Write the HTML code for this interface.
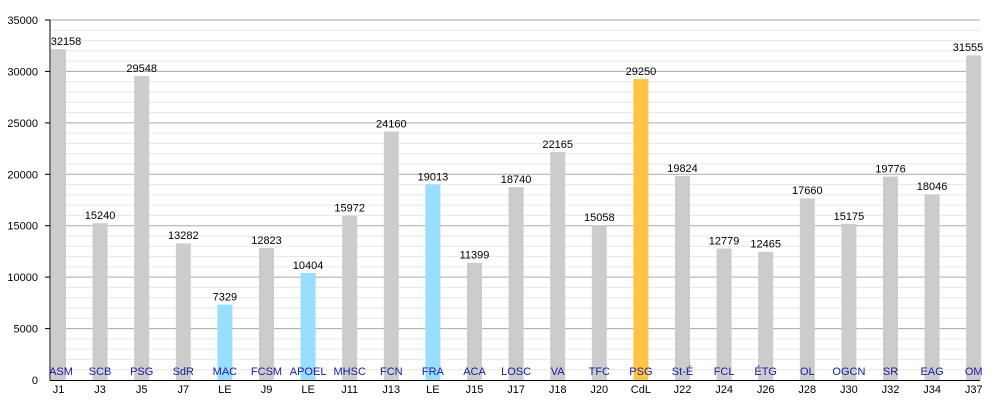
<!DOCTYPE html><html><head><meta charset="utf-8"><style>body{margin:0;background:#fff}svg{display:block;font-family:"Liberation Sans",sans-serif}</style></head><body>
<svg width="1000" height="400" xmlns="http://www.w3.org/2000/svg">
<g stroke="#e6e6e6" stroke-width="1">
<line x1="50" x2="980" y1="369.7" y2="369.7"/><line x1="50" x2="980" y1="359.4" y2="359.4"/><line x1="50" x2="980" y1="349.1" y2="349.1"/><line x1="50" x2="980" y1="338.9" y2="338.9"/>
<line x1="50" x2="980" y1="318.3" y2="318.3"/><line x1="50" x2="980" y1="308.0" y2="308.0"/><line x1="50" x2="980" y1="297.7" y2="297.7"/><line x1="50" x2="980" y1="287.4" y2="287.4"/>
<line x1="50" x2="980" y1="266.9" y2="266.9"/><line x1="50" x2="980" y1="256.6" y2="256.6"/><line x1="50" x2="980" y1="246.3" y2="246.3"/><line x1="50" x2="980" y1="236.0" y2="236.0"/>
<line x1="50" x2="980" y1="215.4" y2="215.4"/><line x1="50" x2="980" y1="205.1" y2="205.1"/><line x1="50" x2="980" y1="194.9" y2="194.9"/><line x1="50" x2="980" y1="184.6" y2="184.6"/>
<line x1="50" x2="980" y1="164.0" y2="164.0"/><line x1="50" x2="980" y1="153.7" y2="153.7"/><line x1="50" x2="980" y1="143.4" y2="143.4"/><line x1="50" x2="980" y1="133.1" y2="133.1"/>
<line x1="50" x2="980" y1="112.6" y2="112.6"/><line x1="50" x2="980" y1="102.3" y2="102.3"/><line x1="50" x2="980" y1="92.0" y2="92.0"/><line x1="50" x2="980" y1="81.7" y2="81.7"/>
<line x1="50" x2="980" y1="61.1" y2="61.1"/><line x1="50" x2="980" y1="50.9" y2="50.9"/><line x1="50" x2="980" y1="40.6" y2="40.6"/><line x1="50" x2="980" y1="30.3" y2="30.3"/>
</g>
<g stroke="#aaa" stroke-width="1">
<line x1="50" x2="980" y1="328.6" y2="328.6"/><line x1="50" x2="980" y1="277.1" y2="277.1"/><line x1="50" x2="980" y1="225.7" y2="225.7"/><line x1="50" x2="980" y1="174.3" y2="174.3"/><line x1="50" x2="980" y1="122.9" y2="122.9"/><line x1="50" x2="980" y1="71.4" y2="71.4"/><line x1="50" x2="980" y1="20" y2="20"/>
</g>
<g fill="#ccc">
<rect x="51" y="49.2" width="15" height="330.8"/><rect x="92.6" y="223.2" width="15" height="156.8"/><rect x="134.2" y="76.1" width="15" height="303.9"/><rect x="175.8" y="243.4" width="15" height="136.6"/>
<rect x="259" y="248.1" width="15" height="131.9"/><rect x="342.2" y="215.7" width="15" height="164.3"/><rect x="383.8" y="131.5" width="15" height="248.5"/>
<rect x="467" y="262.8" width="15" height="117.2"/><rect x="508.6" y="187.2" width="15" height="192.8"/><rect x="550.2" y="152" width="15" height="228"/><rect x="591.8" y="225.1" width="15" height="154.9"/>
<rect x="675" y="176.1" width="15" height="203.9"/><rect x="716.6" y="248.6" width="15" height="131.4"/><rect x="758.2" y="251.8" width="15" height="128.2"/><rect x="799.8" y="198.4" width="15" height="181.6"/><rect x="841.4" y="223.9" width="15" height="156.1"/><rect x="883" y="176.6" width="15" height="203.4"/><rect x="924.6" y="194.4" width="15" height="185.6"/><rect x="966.2" y="55.4" width="15" height="324.6"/>
</g>
<g fill="#99ddff"><rect x="217.4" y="304.6" width="15" height="75.4"/><rect x="300.6" y="273" width="15" height="107"/><rect x="425.4" y="184.4" width="15" height="195.6"/></g>
<rect x="633.4" y="79.1" width="15" height="300.9" fill="#ffc444"/>
<g stroke="#000" stroke-width="1"><line x1="50" y1="20" x2="50" y2="380.5"/><line x1="50" y1="380.5" x2="980" y2="380.5"/>
<line x1="45" x2="50" y1="20" y2="20"/><line x1="45" x2="50" y1="71.4" y2="71.4"/><line x1="45" x2="50" y1="122.9" y2="122.9"/><line x1="45" x2="50" y1="174.3" y2="174.3"/><line x1="45" x2="50" y1="225.7" y2="225.7"/><line x1="45" x2="50" y1="277.1" y2="277.1"/><line x1="45" x2="50" y1="328.6" y2="328.6"/>
</g>
<g font-size="11" text-anchor="end" fill="#000"><text x="38" y="24">35000</text><text x="38" y="75.4">30000</text><text x="38" y="126.9">25000</text><text x="38" y="178.3">20000</text><text x="38" y="229.7">15000</text><text x="38" y="281.1">10000</text><text x="38" y="332.6">5000</text><text x="38" y="384">0</text></g>
<g font-size="11" text-anchor="middle" fill="#000">
<text x="66" y="45">32158</text><text x="100.1" y="219">15240</text><text x="141.7" y="72">29548</text><text x="183.3" y="239">13282</text><text x="224.9" y="300.5">7329</text><text x="266.5" y="244">12823</text><text x="308.1" y="269">10404</text><text x="349.7" y="211.5">15972</text><text x="391.3" y="127.5">24160</text><text x="432.9" y="180.5">19013</text><text x="474.5" y="258.5">11399</text><text x="516.1" y="183">18740</text><text x="557.7" y="148">22165</text><text x="599.3" y="221">15058</text><text x="640.9" y="75">29250</text><text x="682.5" y="172">19824</text><text x="724.1" y="244.5">12779</text><text x="765.7" y="247.5">12465</text><text x="807.3" y="194">17660</text><text x="848.9" y="220">15175</text><text x="890.5" y="172.5">19776</text><text x="932.1" y="190">18046</text><text x="968" y="51">31555</text>
</g>
<g font-size="11" text-anchor="middle" fill="#1a1aa0">
<text x="61" y="375">ASM</text><text x="100.1" y="375">SCB</text><text x="141.7" y="375">PSG</text><text x="183.3" y="375">SdR</text><text x="224.9" y="375">MAC</text><text x="266.5" y="375">FCSM</text><text x="308.1" y="375">APOEL</text><text x="349.7" y="375">MHSC</text><text x="391.3" y="375">FCN</text><text x="432.9" y="375">FRA</text><text x="474.5" y="375">ACA</text><text x="516.1" y="375">LOSC</text><text x="557.7" y="375">VA</text><text x="599.3" y="375">TFC</text><text x="640.9" y="375">PSG</text><text x="682.5" y="375">St-É</text><text x="724.1" y="375">FCL</text><text x="765.7" y="375">ÉTG</text><text x="807.3" y="375">OL</text><text x="848.9" y="375">OGCN</text><text x="890.5" y="375">SR</text><text x="932.1" y="375">EAG</text><text x="973.7" y="375">OM</text>
</g>
<g font-size="11" text-anchor="middle" fill="#000">
<text x="58.5" y="393">J1</text><text x="100.1" y="393">J3</text><text x="141.7" y="393">J5</text><text x="183.3" y="393">J7</text><text x="224.9" y="393">LE</text><text x="266.5" y="393">J9</text><text x="308.1" y="393">LE</text><text x="349.7" y="393">J11</text><text x="391.3" y="393">J13</text><text x="432.9" y="393">LE</text><text x="474.5" y="393">J15</text><text x="516.1" y="393">J17</text><text x="557.7" y="393">J18</text><text x="599.3" y="393">J20</text><text x="640.9" y="393">CdL</text><text x="682.5" y="393">J22</text><text x="724.1" y="393">J24</text><text x="765.7" y="393">J26</text><text x="807.3" y="393">J28</text><text x="848.9" y="393">J30</text><text x="890.5" y="393">J32</text><text x="932.1" y="393">J34</text><text x="973.7" y="393">J37</text>
</g>
</svg></body></html>
